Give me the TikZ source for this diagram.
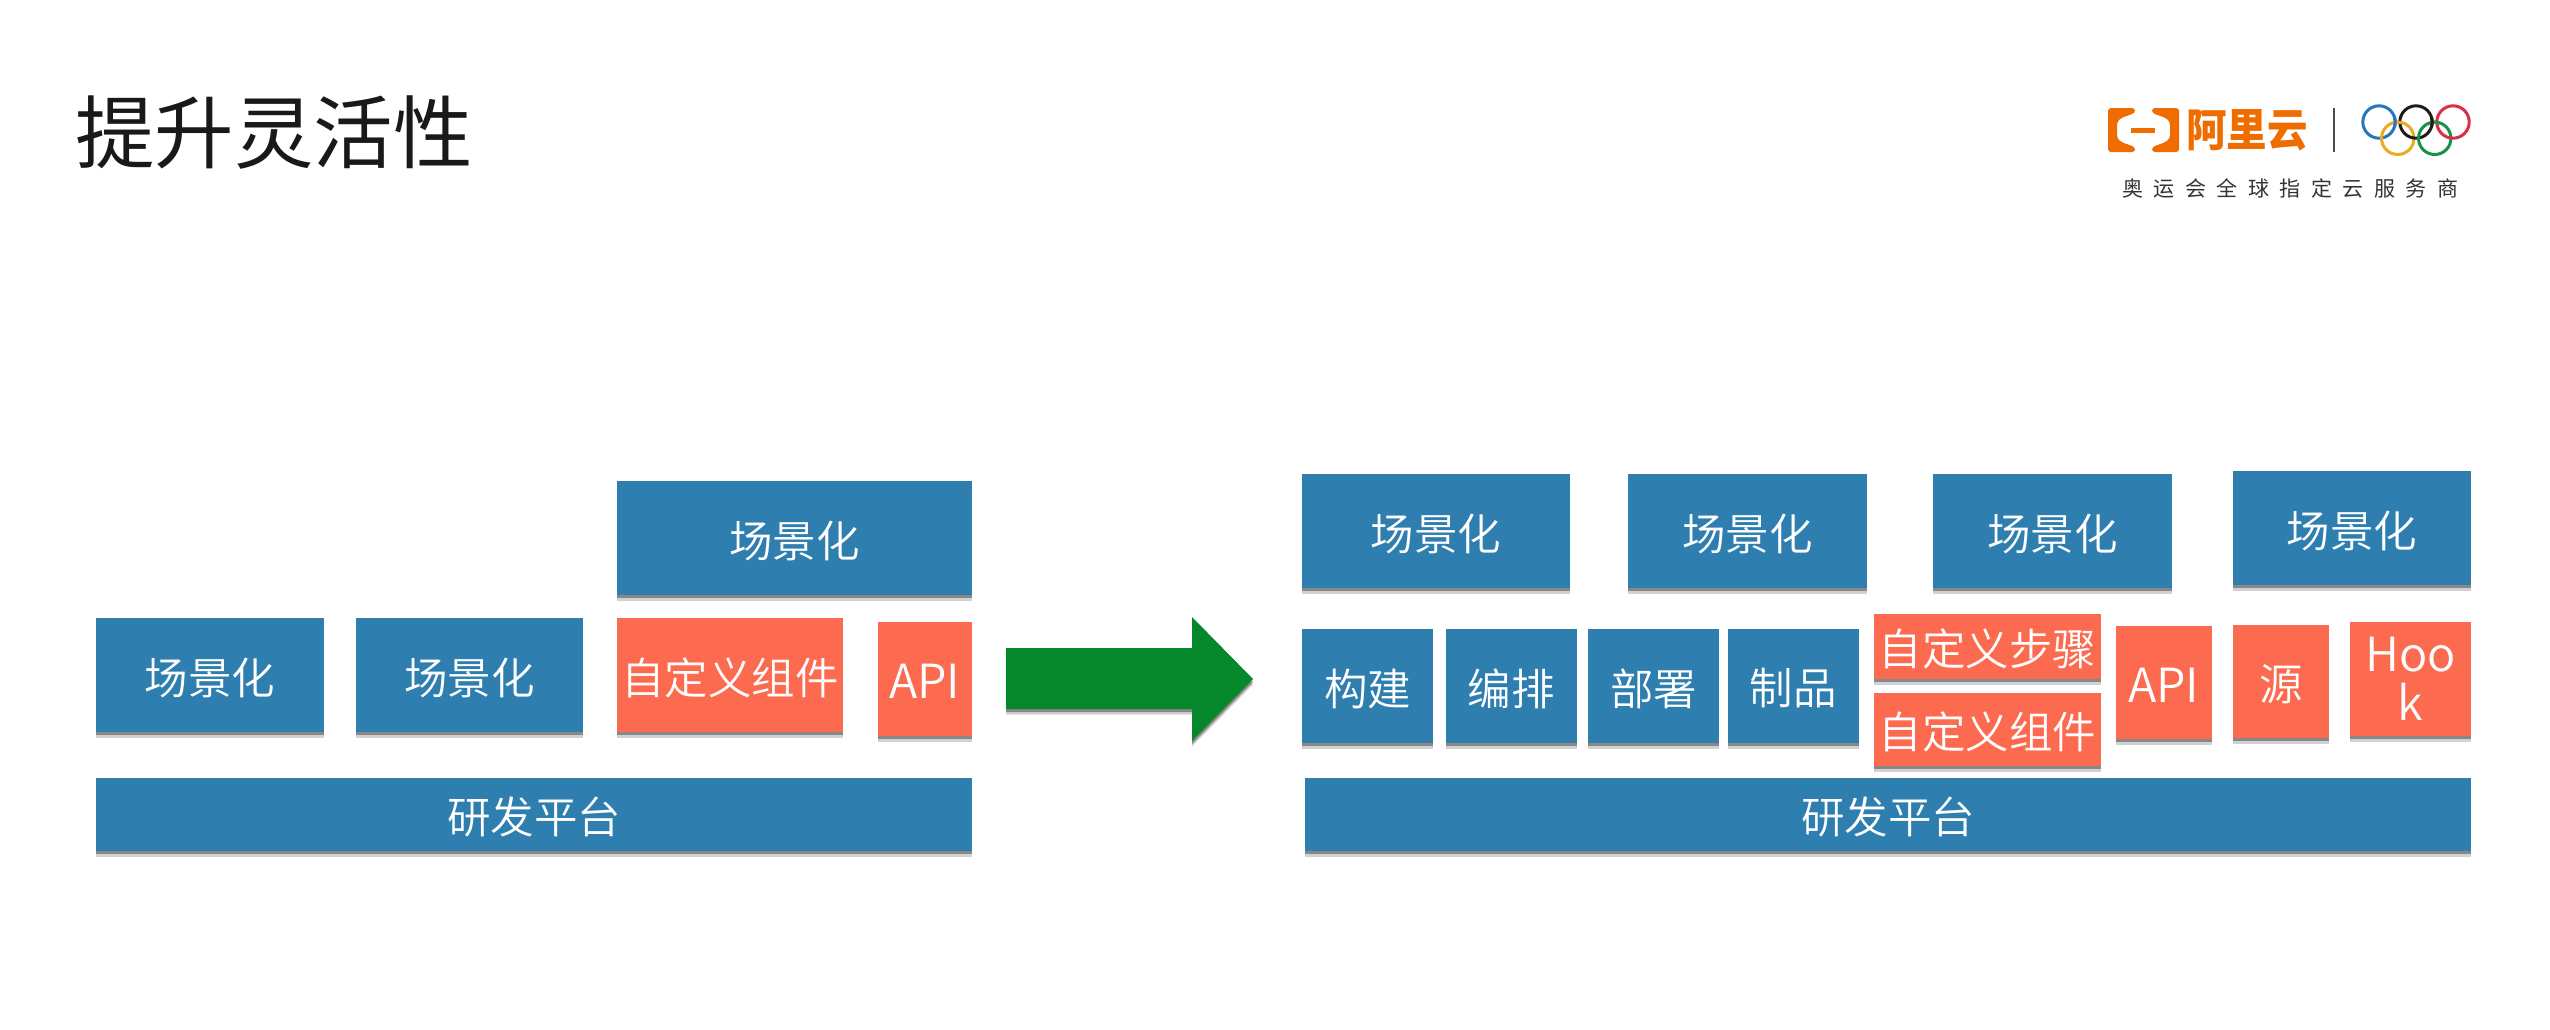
\documentclass[tikz,border=0pt]{standalone}
\usepackage{fontspec}
\usetikzlibrary{shadows}
\setmainfont{Noto Sans CJK SC}
\newfontfamily\lightcjk{Noto Sans CJK SC DemiLight}
\newfontfamily\spacedcjk[LetterSpace=50]{Noto Sans CJK SC}
\definecolor{paperblue}{HTML}{2E7EB0}
\definecolor{coral}{HTML}{FC6A4F}
\definecolor{arrowgreen}{HTML}{04882B}
\definecolor{logoorange}{HTML}{EF6C00}
\definecolor{ringblue}{HTML}{2676B8}
\definecolor{ringyellow}{HTML}{E7AB24}
\definecolor{ringblack}{HTML}{211B18}
\definecolor{ringgreen}{HTML}{169246}
\definecolor{ringred}{HTML}{D83048}
\tikzset{
  softshadow/.style={
    drop shadow={shadow xshift=0pt,shadow yshift=-5.5pt,fill=black,opacity=.18},
    drop shadow={shadow xshift=0pt,shadow yshift=-3pt,fill=black,opacity=.35}},
  block/.style={rectangle,inner sep=0pt,outer sep=0pt,text=white,align=center,softshadow,
    font=\fontsize{43.5}{49}\selectfont\lightcjk},
  bluebox/.style={block,fill=paperblue},
  redbox/.style={block,fill=coral},
  latinbox/.style={redbox,font=\fontsize{47}{49}\selectfont\lightcjk},
  ring/.style={line width=3pt,draw=#1},
}
\newcommand{\blockbox}[7]{% style,name,x1,y1,x2,y2,text
  \pgfmathsetmacro{\bw}{#5-#3}\pgfmathsetmacro{\bh}{#6-#4}
  \pgfmathsetmacro{\bcx}{(#3+#5)/2}\pgfmathsetmacro{\bcy}{(#4+#6)/2}
  \node[#1,minimum width=\bw pt,minimum height=\bh pt] (#2) at (\bcx,\bcy) {#7};}
\newcommand{\low}[1]{\raisebox{-2.5pt}[\height][\depth]{#1}}
\newcommand{\ringpatch}[4]{% colour, centre, cross x, cross y
  \begin{scope}
    \clip (#3-2.5,#4-5) rectangle (#3+2.5,#4+5);
    \draw[ring=#1] #2 circle (16.2);
  \end{scope}}
\begin{document}
\begin{tikzpicture}[x=1pt,y=-1pt]
\useasboundingbox (0,0) rectangle (2550,1029);
\node[anchor=west,inner sep=0pt,text=black!90,font=\fontsize{79.5}{90}\selectfont] (title) at (75,133) {提升灵活性};
% left group
\blockbox{bluebox}{ltop}{616.5}{481}{972}{595}{\low{场景化}}
\blockbox{bluebox}{la}{96}{618}{323.5}{732}{\low{场景化}}
\blockbox{bluebox}{lb}{356}{618}{582.5}{732}{\low{场景化}}
\blockbox{redbox}{lc}{616.5}{618}{843}{732}{\low{自定义组件}}
\blockbox{latinbox}{lapi}{877.5}{622}{972}{736}{\low{API}}
\blockbox{bluebox}{lplat}{96}{778}{972}{851}{\low{研发平台}}
% arrow
\path[fill=arrowgreen,softshadow] (1006,648) -- (1192,648) -- (1192,617) -- (1253,679) -- (1192,741) -- (1192,709) -- (1006,709) -- cycle;
% right group
\blockbox{bluebox}{rs1}{1302}{474}{1570}{588}{\low{场景化}}
\blockbox{bluebox}{rs2}{1628}{474}{1867}{588}{\low{场景化}}
\blockbox{bluebox}{rs3}{1933}{474}{2172}{588}{\low{场景化}}
\blockbox{bluebox}{rs4}{2232.5}{471}{2471}{585}{\low{场景化}}
\blockbox{bluebox}{rm1}{1302}{629}{1433}{743}{\low{构建}}
\blockbox{bluebox}{rm2}{1445.5}{629}{1577}{743}{\low{编排}}
\blockbox{bluebox}{rm3}{1588}{629}{1719}{743}{\low{部署}}
\blockbox{bluebox}{rm4}{1727.5}{629}{1859}{743}{\low{制品}}
\blockbox{redbox}{rstep}{1873.5}{614}{2101}{679}{\low{自定义步骤}}
\blockbox{redbox}{rcomp}{1873.5}{693}{2101}{766}{\low{自定义组件}}
\blockbox{latinbox}{rapi}{2115.5}{626}{2212}{739}{\low{API}}
\blockbox{redbox}{rsrc}{2233}{625}{2329}{738}{\low{源}}
\blockbox{latinbox}{rhook}{2350}{622}{2471}{736}{Hoo\\k}
\blockbox{bluebox}{rplat}{1305}{778}{2471}{851}{\low{研发平台}}
% logo
\fill[logoorange,rounded corners=3pt] (2108,108) -- (2135,108) -- (2135,113) -- (2121,118) -- (2117,122) -- (2117,138) -- (2121,142) -- (2135,147) -- (2135,152) -- (2108,152) -- cycle;
\fill[logoorange,rounded corners=3pt] (2179,108) -- (2152,108) -- (2152,113) -- (2166,118) -- (2170,122) -- (2170,138) -- (2166,142) -- (2152,147) -- (2152,152) -- (2179,152) -- cycle;
\fill[logoorange] (2131,127.5) rectangle (2155,132.5);
\node[inner sep=0pt,text=logoorange,font=\fontsize{45}{48}\selectfont\bfseries] (aliyun) at (2247,130) {\scalebox{.9}[1]{阿里云}};
\draw[line width=1.6pt,black!70] (2334,108) -- (2334,152);
\draw[ring=ringblue] (2379,122) circle (16.2);
\draw[ring=ringyellow] (2397.7,138.3) circle (16.2);
\draw[ring=ringblack] (2416,122) circle (16.2);
\draw[ring=ringgreen] (2434.7,138.3) circle (16.2);
\draw[ring=ringred] (2453,122) circle (16.2);
\ringpatch{ringblue}{(2379,122)}{2395.3}{122.2}
\ringpatch{ringyellow}{(2397.7,138.3)}{2400}{122.2}
\ringpatch{ringblack}{(2416,122)}{2432.3}{122.2}
\ringpatch{ringgreen}{(2434.7,138.3)}{2437}{122.2}
\node[inner sep=0pt,text=black!80,font=\fontsize{21}{26}\selectfont\spacedcjk] (tag) at (2290,188) {奥运会全球指定云服务商};
\end{tikzpicture}
\end{document}
